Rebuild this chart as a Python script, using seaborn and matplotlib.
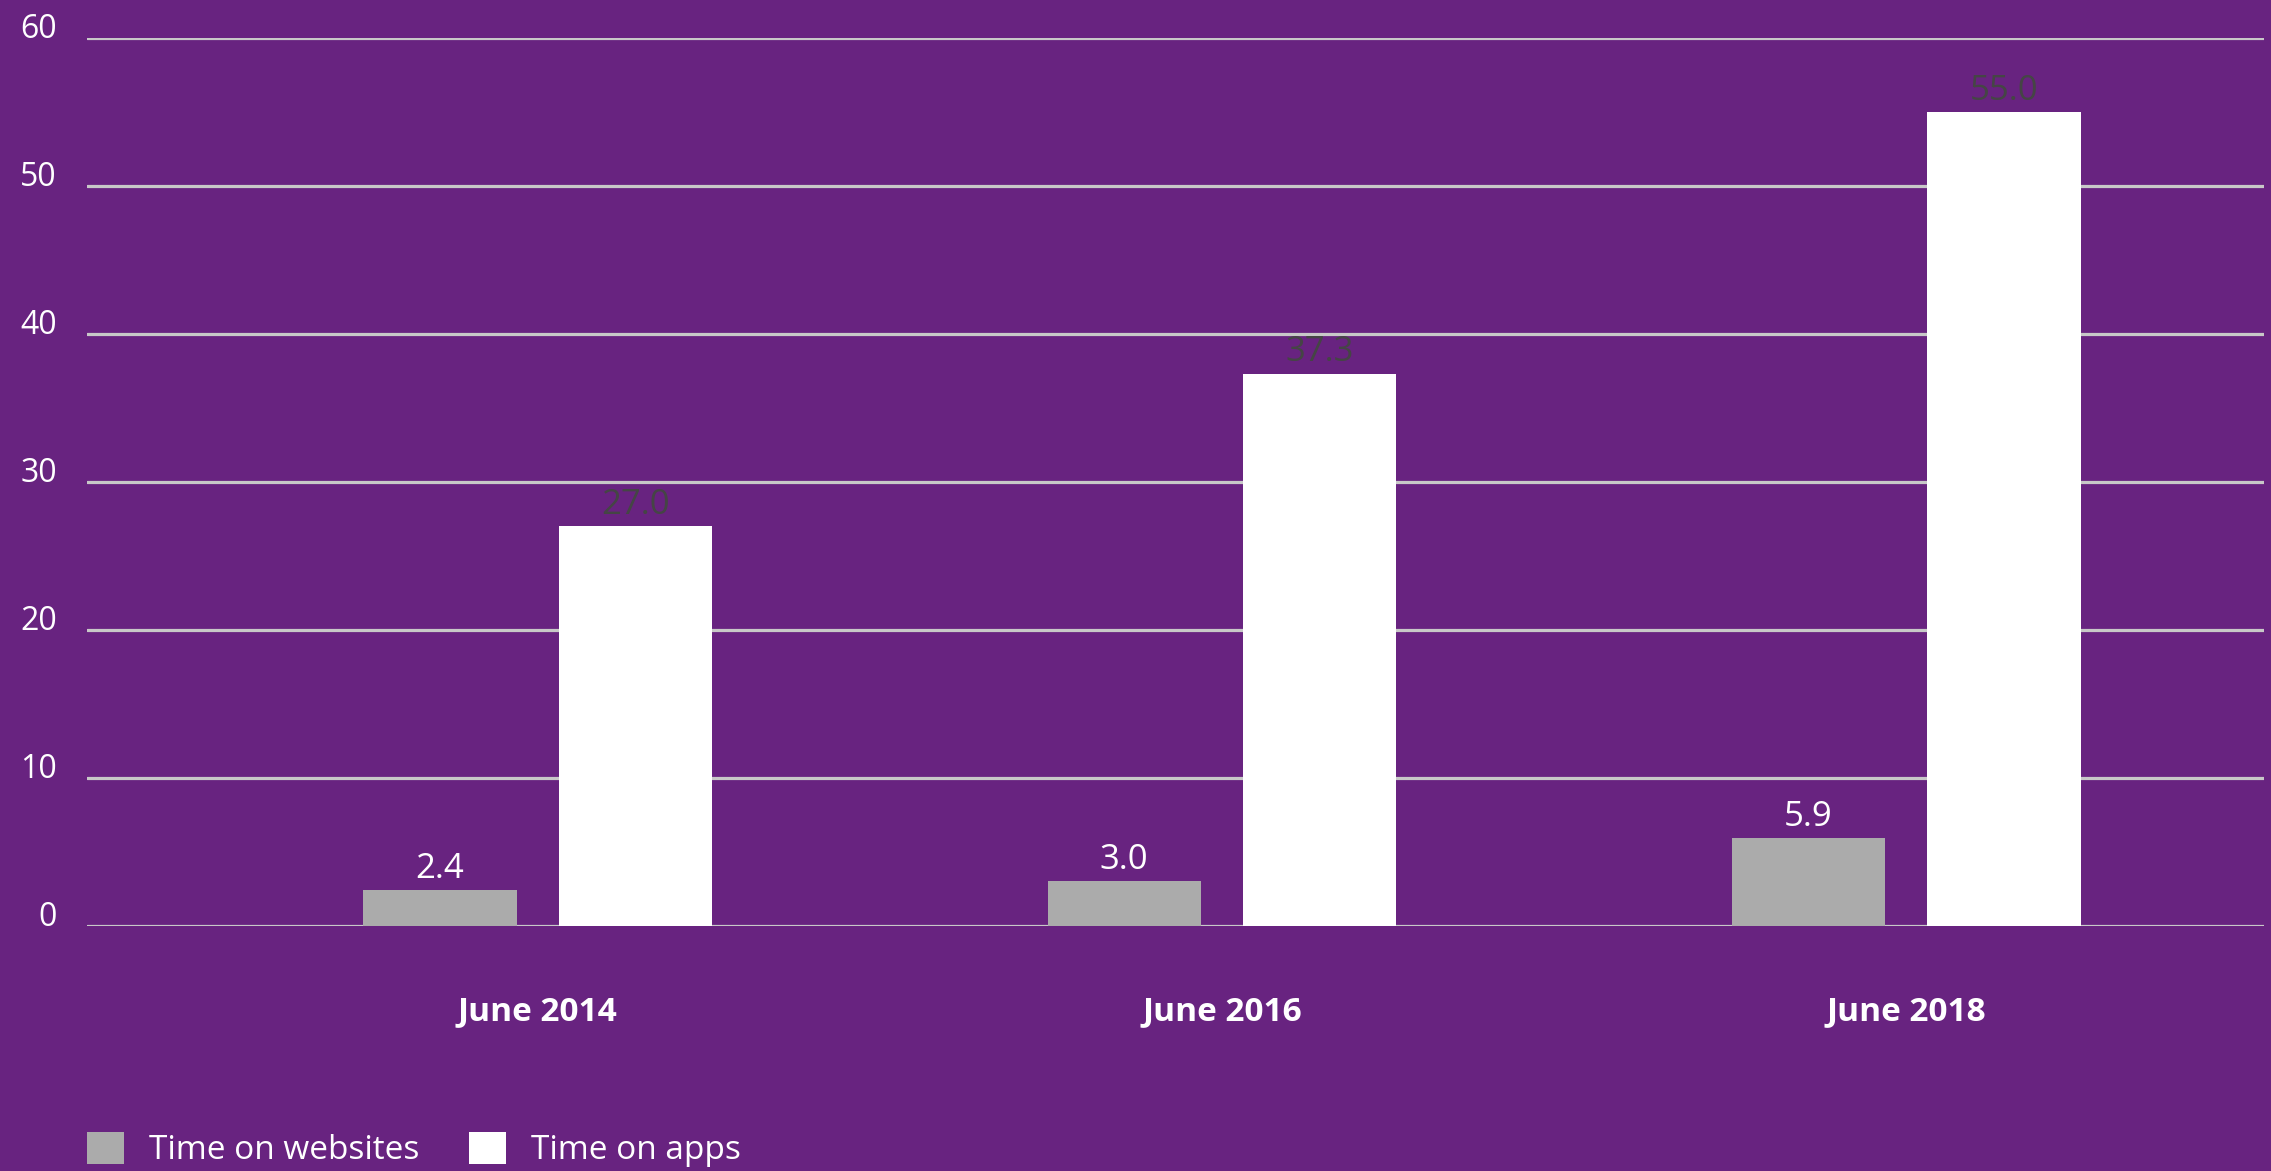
import matplotlib
matplotlib.use("Agg")
import matplotlib.pyplot as plt
import seaborn as sns
import pandas as pd

# Average daily minutes spent, by period
periods = ["June 2014", "June 2016", "June 2018"]
series_names = ["Time on websites", "Time on apps"]
websites = [2.4, 3.0, 5.9]
apps = [27.0, 37.3, 55.0]
y_ticks = [0, 10, 20, 30, 40, 50, 60]

BG = "#682380"
GRID = "#C8C8C8"
colors = {"Time on websites": "#ABABAB", "Time on apps": "#FFFFFF"}

df = pd.DataFrame({
    "period": periods * 2,
    "minutes": websites + apps,
    "series": [series_names[0]] * len(periods) + [series_names[1]] * len(periods),
})

sns.set_theme(style="white")
plt.rcParams["font.family"] = ["Open Sans", "DejaVu Sans"]

fig = plt.figure(figsize=(22.71, 11.71), dpi=100, facecolor=BG)
ax = fig.add_axes([87 / 2271, 1 - 925.5 / 1171, (2264 - 87) / 2271, (925.5 - 37.7) / 1171])
ax.set_facecolor(BG)

sns.barplot(data=df, x="period", y="minutes", hue="series", hue_order=series_names,
            palette=colors, width=0.572, gap=0.217, saturation=1, linewidth=0, ax=ax)

ax.set_xlim(-0.659, 2.523)
ax.set_ylim(0, 60)
ax.set_yticks(y_ticks)
ax.set_axisbelow(True)
ax.yaxis.grid(True, color=GRID, linewidth=2.3)
ax.xaxis.grid(False)
for s in ax.spines.values():
    s.set_visible(False)

ax.set_xlabel("")
ax.set_ylabel("")
ax.tick_params(axis="y", length=0, pad=21.6, labelsize=23, labelcolor="white")
ax.tick_params(axis="x", length=0, pad=50, labelsize=24, labelcolor="white")
for lbl in ax.get_yticklabels():
    lbl.set_verticalalignment("baseline")
for lbl in ax.get_xticklabels():
    lbl.set_fontweight("bold")
    lbl.set_x(0)

# Value labels above each bar
ax.bar_label(ax.containers[0], fmt="%.1f", padding=3, fontsize=25, color="white")
ax.bar_label(ax.containers[1], fmt="%.1f", padding=3, fontsize=25, color="#454545")

handles, labels = ax.get_legend_handles_labels()
ax.get_legend().remove()
leg = fig.legend(handles, labels, loc="lower left", bbox_to_anchor=(87 / 2271, 0.003),
                 ncol=2, frameon=False, fontsize=24, borderpad=0, borderaxespad=0,
                 handlelength=1.1, handleheight=1.1, handletextpad=0.75,
                 columnspacing=1.5, labelcolor="white")

fig.savefig("out.png", dpi=100, facecolor=BG)
